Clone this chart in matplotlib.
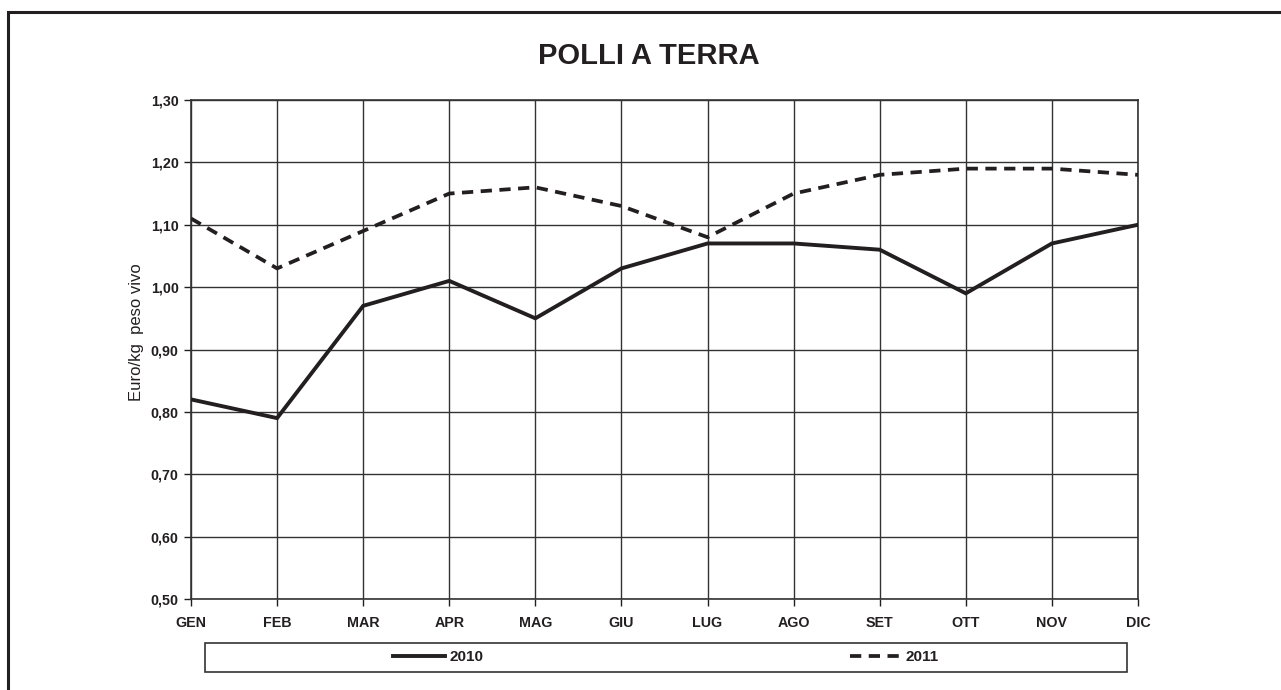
#!/usr/bin/env python
"""
polli_a_terra.py — monthly price of floor-raised chickens, 2010 vs 2011.
"""
import numpy as np
import matplotlib
matplotlib.use("Agg")
import matplotlib.pyplot as plt
from matplotlib.patches import Rectangle
from matplotlib.ticker import FuncFormatter

MONTHS = ["GEN", "FEB", "MAR", "APR", "MAG", "GIU",
          "LUG", "AGO", "SET", "OTT", "NOV", "DIC"]
PRICE_2010 = [0.82, 0.79, 0.97, 1.01, 0.95, 1.03,
              1.07, 1.07, 1.06, 0.99, 1.07, 1.10]
PRICE_2011 = [1.11, 1.03, 1.09, 1.15, 1.16, 1.13,
              1.08, 1.15, 1.18, 1.19, 1.19, 1.18]
Y_TICKS = [0.50, 0.60, 0.70, 0.80, 0.90, 1.00, 1.10, 1.20, 1.30]

INK = "#231f20"
W, H = 1281, 690

plt.rcParams["font.family"] = ["Liberation Sans", "DejaVu Sans"]


def px_x(x):
    return x / W


def px_y(y):
    return 1 - y / H


def main():
    fig = plt.figure(figsize=(W / 100, H / 100), dpi=100)
    fig.patch.set_facecolor("white")

    # plot area in pixel terms: x 191..1138, y 100..599
    ax = fig.add_axes([px_x(191), px_y(599), (1138 - 191) / W, (599 - 100) / H])

    x = np.arange(len(MONTHS))
    l1, = ax.plot(x, PRICE_2010, color=INK, lw=2.8, solid_joinstyle="miter",
                  label="2010", zorder=3)
    l2, = ax.plot(x, PRICE_2011, color=INK, lw=2.7, dashes=(3, 2),
                  label="2011", zorder=3)

    ax.set_xlim(0, len(MONTHS) - 1)
    ax.set_ylim(0.5, 1.3)
    ax.set_xticks(x)
    ax.set_xticklabels(MONTHS, fontsize=10.3, fontweight="bold", color=INK)
    ax.set_yticks(Y_TICKS)
    ax.yaxis.set_major_formatter(FuncFormatter(lambda v, _: f"{v:.2f}".replace(".", ",")))
    for t in ax.get_yticklabels():
        t.set_fontweight("bold")
    ax.tick_params(axis="y", labelsize=10.3, length=5, width=1, colors=INK, pad=4)
    ax.tick_params(axis="x", length=5, width=1, colors=INK, pad=7)
    ax.grid(True, color="#333333", lw=1.0)
    ax.set_axisbelow(True)
    for s in ax.spines.values():
        s.set_color("#333333")
        s.set_linewidth(1.2)

    ax.set_ylabel("Euro/kg  peso vivo", fontsize=12, color=INK)
    ax.yaxis.set_label_coords(-0.0495, 0.535)

    fig.text(px_x(649), px_y(56), "POLLI A TERRA", ha="center", va="center",
             fontsize=21, fontweight="bold", color=INK)

    # legend frame drawn separately, entries centred in each half
    fig.add_artist(Rectangle((px_x(205), px_y(672)), 922 / W, 29 / H,
                             transform=fig.transFigure, fill=False,
                             ec="#333333", lw=1.2))
    leg = fig.legend(handles=[l1, l2], loc="center",
                     bbox_to_anchor=(px_x(666), px_y(657)), ncol=2,
                     frameon=False, fontsize=11, handlelength=3.4,
                     handletextpad=0.25, columnspacing=24)
    for t in leg.get_texts():
        t.set_fontweight("bold")
        t.set_color(INK)

    # outer chart border (only left and top edges fall inside the image)
    fig.add_artist(Rectangle((px_x(8), -0.2), 1.2, px_y(12) + 0.2,
                             transform=fig.transFigure, fill=False,
                             ec=INK, lw=2.2))

    fig.savefig("out.png", dpi=100)


if __name__ == "__main__":
    main()
